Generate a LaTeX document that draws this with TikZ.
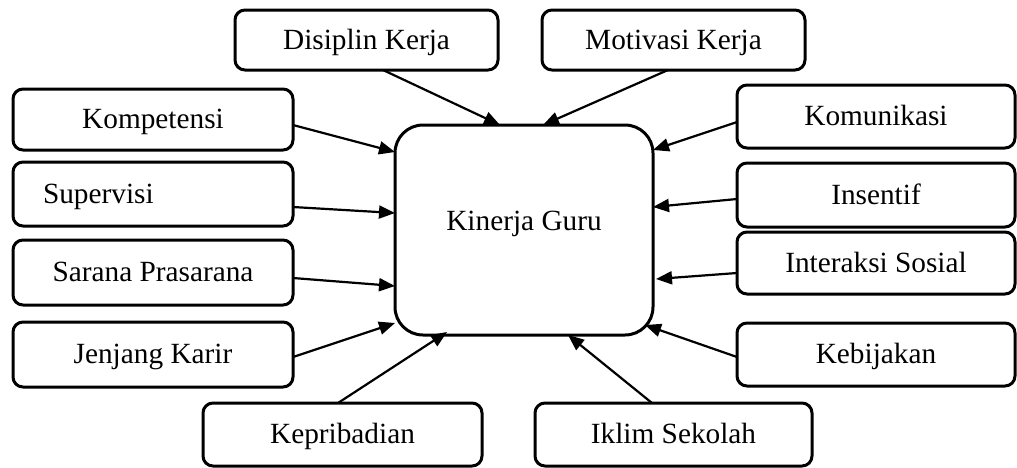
\documentclass[tikz,border=0pt]{standalone}
\usepackage{fontspec}
\setmainfont{Liberation Serif}
\usetikzlibrary{arrows.meta,calc}
\begin{document}
\begin{tikzpicture}[x=1pt,y=-1pt,
  sbox/.style={draw,line width=3pt,rounded corners=10pt,inner sep=0pt,outer sep=0pt,
    text height=22pt,text depth=4pt,font=\fontsize{29.3}{31}\selectfont},
  arr/.style={line width=2.2pt,-{Triangle[length=16pt,width=13pt]}}]
\useasboundingbox (0,0) rectangle (1017,467);
% central
\node[sbox,rounded corners=28pt,text height=12pt,text depth=12pt,minimum width=258pt,minimum height=210pt] (kg) at (524,230) {Kinerja Guru};
% top
\node[sbox,minimum width=263pt,minimum height=60pt] (dk) at (366.5,40) {Disiplin Kerja};
\node[sbox,minimum width=263pt,minimum height=60pt] (mk) at (673.5,40) {Motivasi Kerja};
% left
\node[sbox,minimum width=280pt,minimum height=61pt] (kp) at (153,119.5) {Kompetensi};
\node[sbox,minimum height=64pt,inner xsep=30pt,text width=220pt,align=left] (sv) at (153,194) {Supervisi};
\node[sbox,minimum width=280pt,minimum height=65pt] (sp) at (153,272.5) {Sarana Prasarana};
\node[sbox,minimum width=280pt,minimum height=65pt] (jk) at (153,354.5) {Jenjang Karir};
% bottom
\node[sbox,minimum width=279pt,minimum height=63pt] (kb) at (342.5,434.5) {Kepribadian};
\node[sbox,minimum width=277pt,minimum height=63pt] (ik) at (673.5,434.5) {Iklim Sekolah};
% right
\node[sbox,minimum width=278pt,minimum height=63pt] (km) at (876,116.5) {Komunikasi};
\node[sbox,minimum width=278pt,minimum height=64pt] (in) at (876,195) {Insentif};
\node[sbox,minimum width=278pt,minimum height=62pt] (is) at (876,263) {Interaksi Sosial};
\node[sbox,minimum width=278pt,minimum height=63pt] (kj) at (876,354.5) {Kebijakan};
% arrows
\draw[arr] ($(dk.south west)+(148,0)$) -- ($(kg.north west)+(105,0)$);
\draw[arr] ($(mk.south west)+(126,0)$) -- ($(kg.north west)+(148,0)$);
\draw[arr] (kp.east |- 0,125) -- ($(kg.north west)+(0,27)$);
\draw[arr] (sv.east |- 0,207) -- ($(kg.north west)+(0,88)$);
\draw[arr] (sp.east |- 0,278) -- ($(kg.north west)+(0,161)$);
\draw[arr] (jk.east |- 0,357) -- ($(kg.north west)+(0,198)$);
\draw[arr] ($(kb.north west)+(135,0)$) -- ($(kg.south west)+(52,-3)$);
\draw[arr] ($(ik.north west)+(117,0)$) -- ($(kg.south west)+(173,0)$);
\draw[arr] (km.west |- 0,122) -- ($(kg.north east)+(0,25)$);
\draw[arr] (in.west |- 0,199) -- ($(kg.north east)+(0,82)$);
\draw[arr] (is.west |- 0,273) -- ($(kg.north east)+(3,154)$);
\draw[arr] (kj.west |- 0,357) -- ($(kg.south east)+(-8,-10)$);
\end{tikzpicture}
\end{document}
